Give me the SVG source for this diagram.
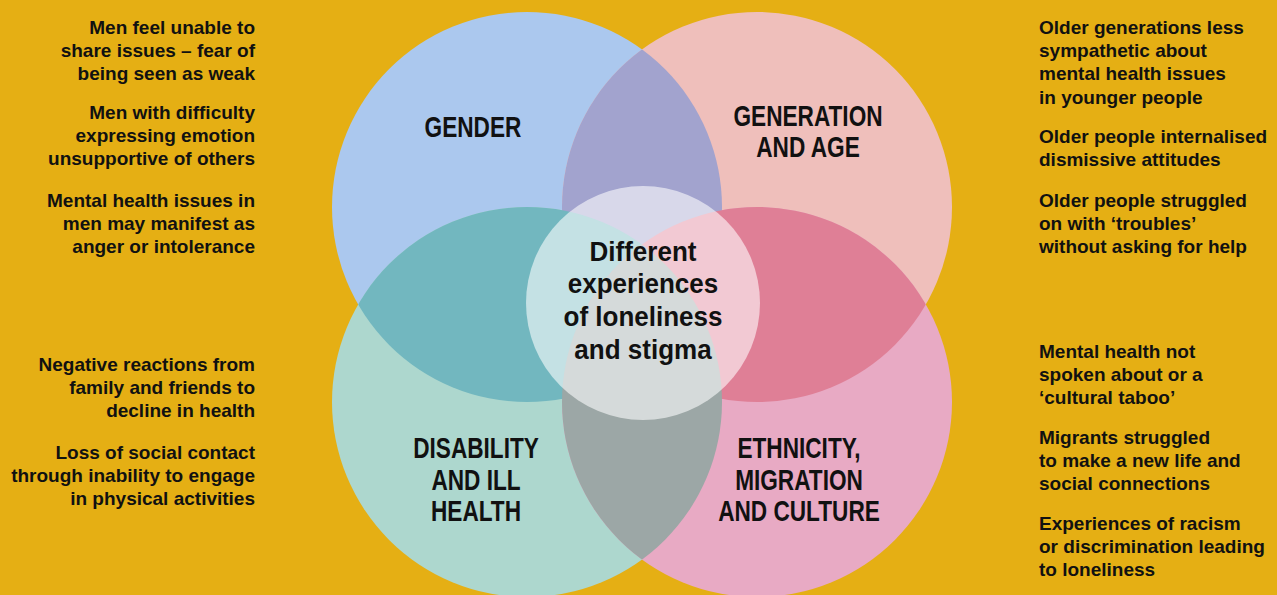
<svg xmlns="http://www.w3.org/2000/svg" width="1277" height="595" viewBox="0 0 1277 595">
<style>
.side{font-family:"Liberation Sans",Arial,sans-serif;font-weight:bold;font-size:19px;fill:#111}
.r{text-anchor:end}
.lab{font-family:"Liberation Sans",Arial,sans-serif;font-weight:bold;font-size:29px;fill:#111;text-anchor:middle}
.ctr{font-family:"Liberation Sans",Arial,sans-serif;font-weight:bold;font-size:28px;fill:#111;text-anchor:middle}
</style>
<defs>
<clipPath id="cTL"><circle cx="527" cy="207" r="195"/></clipPath>
<clipPath id="cTR"><circle cx="757" cy="207" r="195"/></clipPath>
<clipPath id="cBL"><circle cx="527" cy="402" r="195"/></clipPath>
<clipPath id="cBR"><circle cx="757" cy="402" r="195"/></clipPath>
</defs>
<rect width="1277" height="595" fill="#E5AF14"/>
<g id="gender"><circle cx="527" cy="207" r="195" fill="#ABC8EE"/></g>
<g id="generation"><circle cx="757" cy="207" r="195" fill="#EFBFBB"/></g>
<g id="disability"><circle cx="527" cy="402" r="195" fill="#ADD7CE"/></g>
<g id="ethnicity"><circle cx="757" cy="402" r="195" fill="#E8AAC4"/></g>
<g id="overlaps">
<circle cx="757" cy="207" r="195" fill="#A2A3CE" clip-path="url(#cTL)"/>
<circle cx="527" cy="402" r="195" fill="#72B7BF" clip-path="url(#cTL)"/>
<circle cx="757" cy="402" r="195" fill="#DF7F96" clip-path="url(#cTR)"/>
<circle cx="757" cy="402" r="195" fill="#9CA7A6" clip-path="url(#cBL)"/>
</g>
<g id="center"><circle cx="643" cy="303" r="117" fill="#fff" fill-opacity="0.58"/>
<g transform="translate(643,0) scale(0.93,1)">
<text class="ctr" x="0" y="261">Different</text>
<text class="ctr" x="0" y="293">experiences</text>
<text class="ctr" x="0" y="326">of loneliness</text>
<text class="ctr" x="0" y="359">and stigma</text>
</g></g>
<g id="gender-label" transform="translate(473,0) scale(0.78,1)"><text class="lab" x="0" y="137">GENDER</text></g>
<g id="generation-label" transform="translate(808,0) scale(0.78,1)"><text class="lab" x="0" y="126">GENERATION</text><text class="lab" x="0" y="157">AND AGE</text></g>
<g id="disability-label" transform="translate(476,0) scale(0.78,1)"><text class="lab" x="0" y="458">DISABILITY</text><text class="lab" x="0" y="490">AND ILL</text><text class="lab" x="0" y="521">HEALTH</text></g>
<g id="ethnicity-label" transform="translate(799,0) scale(0.78,1)"><text class="lab" x="0" y="458">ETHNICITY,</text><text class="lab" x="0" y="490">MIGRATION</text><text class="lab" x="0" y="521">AND CULTURE</text></g>
<g id="notes-gender">
<text class="side r" x="255" y="34">Men feel unable to</text>
<text class="side r" x="255" y="57">share issues – fear of</text>
<text class="side r" x="255" y="80">being seen as weak</text>
<text class="side r" x="255" y="119">Men with difficulty</text>
<text class="side r" x="255" y="142">expressing emotion</text>
<text class="side r" x="255" y="165">unsupportive of others</text>
<text class="side r" x="255" y="207">Mental health issues in</text>
<text class="side r" x="255" y="230">men may manifest as</text>
<text class="side r" x="255" y="253">anger or intolerance</text>
</g>
<g id="notes-disability">
<text class="side r" x="255" y="371">Negative reactions from</text>
<text class="side r" x="255" y="394">family and friends to</text>
<text class="side r" x="255" y="417">decline in health</text>
<text class="side r" x="255" y="459">Loss of social contact</text>
<text class="side r" x="255" y="482">through inability to engage</text>
<text class="side r" x="255" y="505">in physical activities</text>
</g>
<g id="notes-generation">
<text class="side" x="1039" y="34">Older generations less</text>
<text class="side" x="1039" y="57">sympathetic about</text>
<text class="side" x="1039" y="80">mental health issues</text>
<text class="side" x="1039" y="104">in younger people</text>
<text class="side" x="1039" y="143">Older people internalised</text>
<text class="side" x="1039" y="166">dismissive attitudes</text>
<text class="side" x="1039" y="207">Older people struggled</text>
<text class="side" x="1039" y="230">on with ‘troubles’</text>
<text class="side" x="1039" y="253">without asking for help</text>
</g>
<g id="notes-ethnicity">
<text class="side" x="1039" y="358">Mental health not</text>
<text class="side" x="1039" y="381">spoken about or a</text>
<text class="side" x="1039" y="404">‘cultural taboo’</text>
<text class="side" x="1039" y="444">Migrants struggled</text>
<text class="side" x="1039" y="467">to make a new life and</text>
<text class="side" x="1039" y="490">social connections</text>
<text class="side" x="1039" y="530">Experiences of racism</text>
<text class="side" x="1039" y="553">or discrimination leading</text>
<text class="side" x="1039" y="576">to loneliness</text>
</g>
<g id="connectors"></g>
</svg>
